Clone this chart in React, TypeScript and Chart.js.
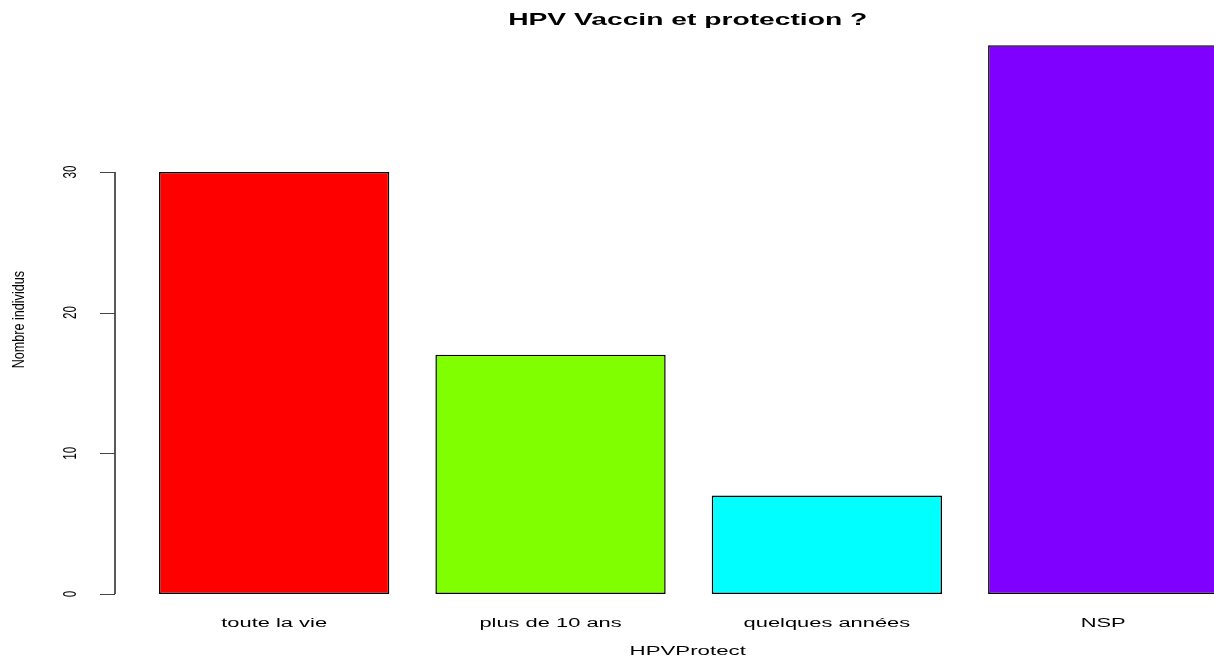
import React, { useEffect, useRef } from "react";
import { Chart, registerables } from "chart.js";

Chart.register(...registerables);

const categories = ["toute la vie", "plus de 10 ans", "quelques années", "NSP"];
const counts = [30, 17, 7, 39];
const barColors = ["#FF0000", "#80FF00", "#00FFFF", "#8000FF"];
const yTicks = [0, 10, 20, 30];
const titleText = "HPV Vaccin et protection ?";
const xTitleText = "HPVProtect";
const yTitleText = "Nombre individus";

const FONT = '"Liberation Sans", Arial, Helvetica, sans-serif';

function stretchedText(
  ctx: CanvasRenderingContext2D,
  text: string,
  x: number,
  y: number,
  font: string,
  sx: number,
  rotate: boolean,
  baseline: CanvasTextBaseline
) {
  ctx.save();
  ctx.translate(x, y);
  ctx.scale(sx, 1);
  if (rotate) ctx.rotate(-Math.PI / 2);
  ctx.font = font;
  ctx.fillStyle = "#000";
  ctx.textAlign = "center";
  ctx.textBaseline = baseline;
  ctx.fillText(text, 0, 0);
  ctx.restore();
}

const rPlotPlugin = {
  id: "rPlot",
  afterDraw(chart: any) {
    const ctx: CanvasRenderingContext2D = chart.ctx;
    const area = chart.chartArea;
    const xs = chart.scales.x;
    const ys = chart.scales.y;
    const axisX = area.left - 21;
    const center = (axisX + area.right + 21) / 2 - 1;

    // title
    stretchedText(ctx, titleText, center, 24.5, `bold 17px ${FONT}`, 1.66, false, "alphabetic");

    // x category labels
    const labels = xs.getLabels();
    labels.forEach((lab: string, i: number) => {
      stretchedText(ctx, lab, xs.getPixelForValue(i), 627, `12.5px ${FONT}`, 1.75, false, "alphabetic");
    });
    // x title
    stretchedText(ctx, xTitleText, center, 655, `12.5px ${FONT}`, 1.78, false, "alphabetic");

    // y axis line
    const y0 = ys.getPixelForValue(yTicks[0]);
    const y1 = ys.getPixelForValue(yTicks[yTicks.length - 1]);
    ctx.save();
    ctx.strokeStyle = "#222";
    ctx.lineWidth = 1.5;
    ctx.beginPath();
    ctx.moveTo(axisX, y0);
    ctx.lineTo(axisX, y1);
    ctx.stroke();
    ctx.lineWidth = 1;
    ctx.strokeStyle = "#444";
    yTicks.forEach((t) => {
      const py = Math.round(ys.getPixelForValue(t)) + 0.5;
      ctx.beginPath();
      ctx.moveTo(axisX - 15, py);
      ctx.lineTo(axisX, py);
      ctx.stroke();
    });
    ctx.restore();

    yTicks.forEach((t) => {
      stretchedText(ctx, String(t), 71.5, ys.getPixelForValue(t), `11.7px ${FONT}`, 1.5, true, "middle");
    });

    // y title
    stretchedText(ctx, yTitleText, 19, (area.top + area.bottom) / 2, `12.6px ${FONT}`, 1.3, true, "middle");
  },
};

export default function App() {
  const ref = useRef<HTMLCanvasElement | null>(null);

  useEffect(() => {
    document.body.style.margin = "0";
    const canvas = ref.current;
    if (!canvas) return;
    const chart = new Chart(canvas, {
      type: "bar",
      data: {
        labels: categories,
        datasets: [
          {
            data: counts,
            backgroundColor: barColors,
            borderColor: "#000",
            borderWidth: 1.5,
            borderSkipped: false,
            barPercentage: 1 / 1.2,
            categoryPercentage: 1,
          },
        ],
      },
      options: {
        responsive: false,
        animation: false,
        devicePixelRatio: 1,
        layout: { padding: { left: 136, right: 18.6, top: 23.4, bottom: 45.1 } },
        scales: {
          x: { display: false },
          y: { display: false, min: -1.56, max: 40.56 },
        },
        plugins: {
          legend: { display: false },
          tooltip: { enabled: false },
          title: { display: false },
        },
      },
      plugins: [rPlotPlugin],
    } as any);
    return () => chart.destroy();
  }, []);

  return (
    <div
      style={{
        position: "fixed",
        left: 0,
        top: 0,
        width: 1214,
        height: 661,
        overflow: "hidden",
        background: "#fff",
      }}
    >
      <canvas ref={ref} width={1260} height={661} style={{ width: 1260, height: 661, display: "block" }} />
    </div>
  );
}
